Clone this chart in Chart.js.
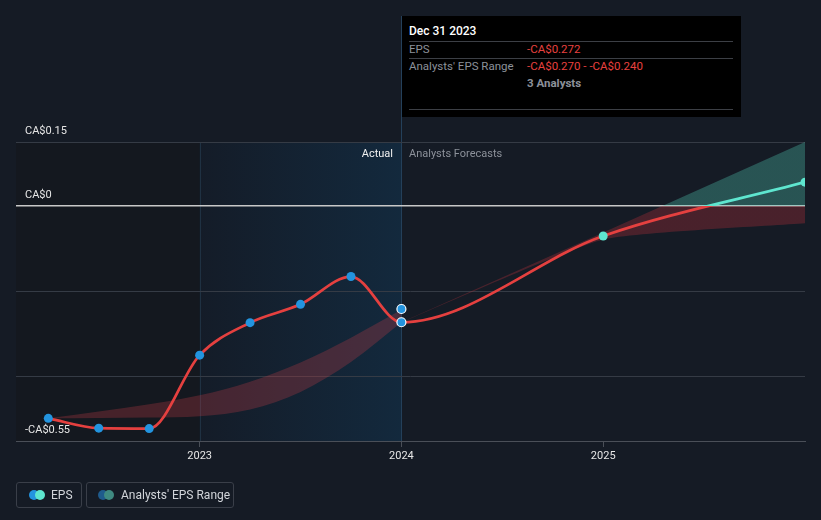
<!DOCTYPE html>
<html>
<head>
<meta charset="utf-8">
<script src="https://cdn.jsdelivr.net/npm/chart.js@4"></script>
<style>
  html, body { margin:0; padding:0; background:#151b25; width:821px; height:520px; overflow:hidden; font-family: Roboto, "Open Sans", sans-serif; }
  #wrap { position:absolute; left:0; top:0; width:821px; height:520px; }
  canvas { position:absolute; left:0; top:0; }
  .tip { position:absolute; left:402px; top:16px; width:339px; height:101px; background:#000; }
  .tip .t { position:absolute; font-size:11.5px; line-height:14px; white-space:nowrap; }
  .tip .hr { position:absolute; left:7px; width:324px; height:1px; background:#3c3f45; }
  .lbl { position:absolute; font-size:11px; line-height:14px; white-space:nowrap; }
  .leg { position:absolute; top:482px; height:26px; border:1px solid #3a3f49; border-radius:3px; box-sizing:border-box; }
  .leg .d { position:absolute; top:7px; width:10px; height:10px; border-radius:50%; }
  .leg .tx { position:absolute; top:5px; font-size:12px; line-height:14px; color:#d2d5da; white-space:nowrap; }
</style>
</head>
<body>
<div id="wrap">
  <canvas id="c" width="821" height="520"></canvas>
  <div class="lbl" style="right:428px; top:147px; color:#f0f0f0;">Actual</div>
  <div class="lbl" style="left:409px; top:147px; color:#8c919a;">Analysts Forecasts</div>
  <div class="tip">
    <div class="t" style="left:7px; top:8px; color:#fff; font-size:12px; font-weight:500;">Dec 31 2023</div>
    <div class="hr" style="top:25px;"></div>
    <div class="t" style="left:7px; top:26px; color:#8c919a;">EPS</div>
    <div class="t" style="left:125px; top:26px; color:#e8403f;">-CA$0.272</div>
    <div class="hr" style="top:42px;"></div>
    <div class="t" style="left:7px; top:43px; color:#8c919a;">Analysts' EPS Range</div>
    <div class="t" style="left:125px; top:43px; color:#e8403f;">-CA$0.270 - -CA$0.240</div>
    <div class="t" style="left:125px; top:60px; color:#8c919a; font-weight:700;">3 Analysts</div>
    <div class="hr" style="top:93px;"></div>
  </div>
  <div class="leg" style="left:16px; width:66px;">
    <div class="d" style="left:12px; background:#2394df;"></div>
    <div class="d" style="left:18px; background:#5ee6cf;"></div>
    <div class="tx" style="left:34px;">EPS</div>
  </div>
  <div class="leg" style="left:86px; width:148px;">
    <div class="d" style="left:11px; background:#1f5b8c;"></div>
    <div class="d" style="left:17px; background:#3f8a81;"></div>
    <div class="tx" style="left:34px;">Analysts' EPS Range</div>
  </div>
</div>
<script>
// ---- data ----
const epsDates   = [2022.25, 2022.5, 2022.75, 2023.0, 2023.25, 2023.5, 2023.75, 2024.0, 2025.0, 2026.0];
const epsValues  = [-0.497, -0.520, -0.521, -0.349, -0.273, -0.230, -0.165, -0.272, -0.070, 0.056];
const pastRangeDates = [2022.25, 2022.5, 2022.75, 2023.0, 2023.25, 2023.5, 2023.75, 2024.0];
const pastRangeLow   = [-0.497, -0.496, -0.495, -0.492, -0.476, -0.435, -0.365, -0.272];
const pastRangeHigh  = [-0.497, -0.481, -0.464, -0.443, -0.411, -0.366, -0.308, -0.243];
const fcRangeDates = [2024.0, 2025.0, 2026.0];
const fcRangeLow   = [-0.272, -0.078, -0.040];
const fcRangeHigh  = [-0.272, -0.062, 0.150];
const consensusDate = 2024.0;
const consensusValue = -0.241;
const yTicks = [-0.55, -0.4, -0.2, 0, 0.15];
const yLabelled = [-0.55, 0, 0.15];
const xTicks = [2023, 2024, 2025];

const RED = '#e5403f', TEAL = '#5ee6cf', BLUE = '#2394df';
const pts = (xs, ys) => xs.map((x, i) => ({x, y: ys[i]}));

function splitAtZero(ctx, above, below) {
  const chart = ctx.chart; const ca = chart.chartArea;
  if (!ca) return below;
  const y0 = chart.scales.y.getPixelForValue(0);
  let s = (y0 - ca.top) / (ca.bottom - ca.top);
  s = Math.min(1, Math.max(0, s));
  const g = chart.ctx.createLinearGradient(0, ca.top, 0, ca.bottom);
  g.addColorStop(0, above); g.addColorStop(s, above);
  g.addColorStop(s, below); g.addColorStop(1, below);
  return g;
}

const bgPlugin = {
  id: 'bg',
  beforeDraw(chart) {
    const {ctx, chartArea: ca, scales: {x}} = chart;
    const x23 = x.getPixelForValue(2023), x24 = x.getPixelForValue(2024);
    ctx.save();
    ctx.fillStyle = '#14181f';
    ctx.fillRect(ca.left, ca.top, x23 - ca.left, ca.bottom - ca.top);
    const g = ctx.createLinearGradient(x23, 0, x24, 0);
    g.addColorStop(0, '#141c28'); g.addColorStop(1, '#13293d');
    ctx.fillStyle = g;
    ctx.fillRect(x23, ca.top, x24 - x23, ca.bottom - ca.top);
    ctx.strokeStyle = '#1f3142'; ctx.lineWidth = 1;
    ctx.beginPath(); ctx.moveTo(Math.round(x23) + 0.5, ca.top); ctx.lineTo(Math.round(x23) + 0.5, ca.bottom); ctx.stroke();
    ctx.strokeStyle = '#24405a';
    ctx.beginPath(); ctx.moveTo(Math.round(x24) + 0.5, 16); ctx.lineTo(Math.round(x24) + 0.5, ca.bottom); ctx.stroke();
    ctx.restore();
  }
};

new Chart(document.getElementById('c'), {
  type: 'line',
  data: {
    datasets: [
      { label: 'EPS', data: pts(epsDates, epsValues), order: 0,
        cubicInterpolationMode: 'monotone', borderWidth: 2.7,
        borderColor: (ctx) => splitAtZero(ctx, TEAL, RED),
        pointRadius: 4.5, pointHoverRadius: 4.5,
        pointBackgroundColor: epsDates.map((d, i) => i >= 8 ? TEAL : BLUE),
        pointBorderColor: epsDates.map((d, i) => i === 7 ? '#ffffff' : (i >= 8 ? TEAL : BLUE)),
        pointBorderWidth: epsDates.map((d, i) => i === 7 ? 1.2 : 0),
        fill: false },
      { label: 'consensus', data: [{x: consensusDate, y: consensusValue}], order: 0,
        showLine: false, pointRadius: 4.5, pointBackgroundColor: BLUE,
        pointBorderColor: '#ffffff', pointBorderWidth: 1.2, fill: false },
      { label: 'pastLow', data: pts(pastRangeDates, pastRangeLow), order: 5,
        cubicInterpolationMode: 'monotone', borderWidth: 0, pointRadius: 0, fill: false },
      { label: 'pastHigh', data: pts(pastRangeDates, pastRangeHigh), order: 5,
        cubicInterpolationMode: 'monotone', borderWidth: 0, pointRadius: 0,
        fill: '-1', backgroundColor: 'rgba(190,58,68,0.30)' },
      { label: 'fcLow', data: pts(fcRangeDates, fcRangeLow), order: 5,
        tension: 0.15, borderWidth: 0, pointRadius: 0, fill: false },
      { label: 'fcHigh', data: pts(fcRangeDates, fcRangeHigh), order: 5,
        tension: 0, borderWidth: 0, pointRadius: 0,
        fill: '-1', backgroundColor: (ctx) => splitAtZero(ctx, 'rgba(80,200,180,0.33)', 'rgba(195,50,60,0.30)') }
    ]
  },
  options: {
    responsive: false, animation: false,
    layout: { padding: { left: 16, right: 16, top: 142, bottom: 0 } },
    plugins: { legend: { display: false }, tooltip: { enabled: false } },
    events: [],
    scales: {
      x: {
        type: 'linear', min: 2022.09, max: 2026.0,
        afterBuildTicks: (s) => { s.ticks = xTicks.map(v => ({value: v})); },
        afterFit: (s) => { s.height = 79; },
        grid: { drawOnChartArea: false, drawTicks: true, tickLength: 6, color: '#4a4f58' },
        border: { display: true, color: '#4a4f58', width: 1 },
        ticks: { color: '#e6e6e6', font: { family: 'Roboto', size: 11 }, padding: 3, maxRotation: 0,
                 callback: (v) => String(v) }
      },
      y: {
        type: 'linear', min: -0.55, max: 0.15,
        afterBuildTicks: (s) => { s.ticks = yTicks.map(v => ({value: v})); },
        afterFit: (s) => { s.width = 0; },
        grid: { drawTicks: false,
                color: (c) => (c.tick && c.tick.value === 0) ? '#c8c8c8' : '#353b45',
                lineWidth: (c) => (c.tick && c.tick.value === 0) ? 1.5 : 1 },
        border: { display: false },
        ticks: { mirror: true, padding: 9, labelOffset: -11, color: '#e6e6e6',
                 font: { family: 'Roboto', size: 11 },
                 callback: (v) => {
                   if (!yLabelled.some(t => Math.abs(t - v) < 1e-9)) return '';
                   if (Math.abs(v) < 1e-9) return 'CA$0';
                   return (v < 0 ? '-CA$' : 'CA$') + Math.abs(v).toFixed(2);
                 } }
      }
    }
  },
  plugins: [bgPlugin]
});
</script>
</body>
</html>
